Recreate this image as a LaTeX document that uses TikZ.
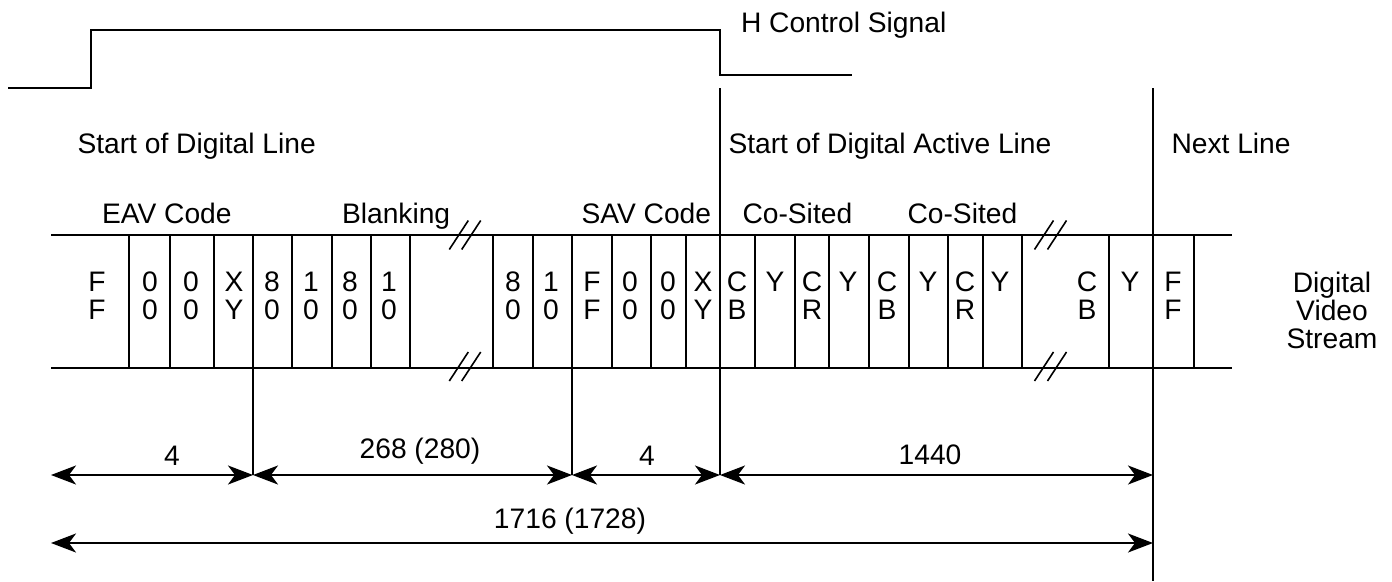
\documentclass[tikz,border=0pt]{standalone}
\usepackage{fontspec}
\setmainfont{Liberation Sans}
\usetikzlibrary{arrows.meta}
\begin{document}
\begin{tikzpicture}[x=1pt,y=-1pt,line width=2pt,
  txt/.style={font=\fontsize{28.2}{30}\selectfont,inner sep=0pt},
  lbl/.style={txt,anchor=base west},
  cl/.style={txt,anchor=base},
  tipk/.tip={Stealth[length=25pt,width=19pt,inset=7pt]},
  dim/.style={tipk-tipk},
  brk/.style={line width=1.6pt}]
\useasboundingbox (0,0) rectangle (1392,581);
% H control signal
\coordinate (h0) at (8,88);
\coordinate (h1) at (91,88);
\coordinate (h2) at (91,30);
\coordinate (h3) at (720,30);
\coordinate (h4) at (720,75);
\coordinate (h5) at (852,75);
\draw (h0) -- (h1) -- (h2) -- (h3) -- (h4) -- (h5);
\node[lbl] (hcs) at (740,32) {H Control Signal};
% headings
\node[lbl] (sdl) at (76.5,153) {Start of Digital Line};
\node[lbl] (sdal) at (727.5,153) {Start of Digital Active Line};
\node[lbl] (nl) at (1170.5,153) {Next Line};
\node[lbl] (eav) at (101,223) {EAV Code};
\node[lbl] (blk) at (341,223) {Blanking};
\node[lbl] (sav) at (580.5,223) {SAV Code};
\node[lbl] (cs1) at (741.5,223) {Co-Sited};
\node[lbl] (cs2) at (906.5,223) {Co-Sited};
% stream band
\coordinate (tl) at (51,235);
\coordinate (tr) at (1232,235);
\coordinate (bl) at (51,368);
\coordinate (br) at (1232,368);
\draw (tl) -- (tr);
\draw (bl) -- (br);
\foreach \x in {129,170,214,292,332,371,410,493,533,612,651,686,755,795,829,869,909,948,983,1022,1109,1194}
  \draw (\x,235) -- (\x,368);
% long verticals
\coordinate (a0) at (51,475);
\coordinate (a1) at (253,475);
\coordinate (a2) at (572,475);
\coordinate (a3) at (720,475);
\coordinate (a4) at (1153,475);
\coordinate (v1) at (253,235);
\coordinate (v2) at (572,235);
\coordinate (v3) at (720,88);
\coordinate (v4) at (1153,88);
\coordinate (v4b) at (1153,581);
\draw (v1) -- (a1);
\draw (v2) -- (a2);
\draw (v3) -- (a3);
\draw (v4) -- (v4b);
% break marks
\foreach \cx in {458.8,471.2,1044,1057}{
  \draw[brk] (\cx-9.5,249.5) -- (\cx+9.5,220.5);
  \draw[brk] (\cx-9.5,381) -- (\cx+9.5,352);
}
% cell labels (two rows)
\foreach \x/\a/\b [count=\i] in {97/F/F,150/0/0,191/0/0,234/X/Y,272/8/0,311/1/0,350/8/0,389/1/0,
  513/8/0,551/1/0,592/F/F,630/0/0,668/0/0,703/X/Y,737/C/B,812/C/R,887/C/B,965/C/R,1087/C/B,1173/F/F}{
  \node[cl] (u\i) at (\x,291) {\a};
  \node[cl] (l\i) at (\x,319) {\b};
}
\foreach \x [count=\i] in {775,848,928,1000,1130}
  \node[cl] (y\i) at (\x,291) {Y};
\node[cl] (dvs) at (1332,292) {Digital};
\node[cl] (dvs2) at (1332,320) {Video};
\node[cl] (dvs3) at (1332,348) {Stream};
% dimensions
\coordinate (b0) at (51,543);
\coordinate (b1) at (1153,543);
\draw[dim] (a0) -- (a1);
\draw[dim] (a1) -- (a2);
\draw[dim] (a2) -- (a3);
\draw[dim] (a3) -- (a4);
\draw[dim] (b0) -- (b1);
\node[cl] (n4a) at (172,465) {4};
\node[cl] (n268) at (420,458) {268 (280)};
\node[cl] (n4b) at (647,465) {4};
\node[cl] (n1440) at (930,464) {1440};
\node[cl] (n1716) at (570,528) {1716 (1728)};
\end{tikzpicture}
\end{document}
